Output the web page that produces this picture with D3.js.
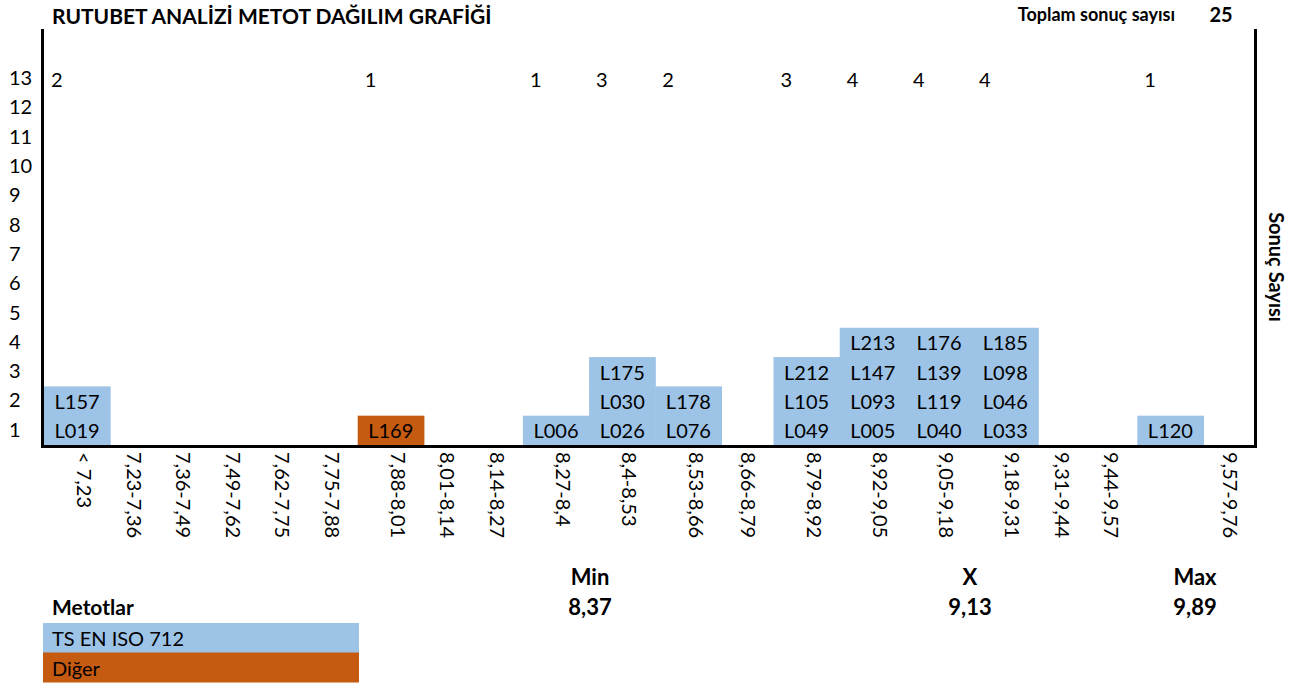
<!DOCTYPE html>
<html>
<head>
	<meta charset="utf-8">
	<title> rutubet dagilim </title>
	<script src="https://d3js.org/d3.v7.min.js"></script>
	<style>
		body { margin: 0; background: #fff; }
		text { font-family: Lato, "Noto Sans", sans-serif; fill: #000; }
	</style>
</head>
<body>
	<svg width="1309" height="686"></svg>
	<script type="text/javascript">
		// bins (x axis), one empty label where the sheet had none
		let categories = ["< 7,23","7,23-7,36","7,36-7,49","7,49-7,62","7,62-7,75","7,75-7,88",
			"7,88-8,01","8,01-8,14","8,14-8,27","8,27-8,4","8,4-8,53","8,53-8,66","8,66-8,79",
			"8,79-8,92","8,92-9,05","9,05-9,18","9,18-9,31","9,31-9,44","9,44-9,57","","9,57-9,76"];
		// samples stacked in each bin, bottom first
		let samples = [["L019","L157"],[],[],[],[],[],["L169"],[],[],["L006"],
			["L026","L030","L175"],["L076","L178"],[],["L049","L105","L212"],
			["L005","L093","L147","L213"],["L040","L119","L139","L176"],
			["L033","L046","L098","L185"],[],[],["L120"],[]];
		let otherSamples = ["L169"];
		let methods = ["TS EN ISO 712","Diğer"];
		let rows = d3.range(13, 0, -1);
		let statNames = ["Min","X","Max"];
		let statValues = ["8,37","9,13","9,89"];

		// layout
		let colors = {"TS EN ISO 712": "#9dc3e6", "Diğer": "#c55a11"};
		let colW = [66.2,49.5,49.5,49.5,49.5,49.5,66.2,49.5,49.5,66.2,66.2,66.2,52,66.2,66.2,66.2,66.2,49.5,49.5,66.2,52.5];
		let left = 44, lefts = [];
		colW.forEach(function(w) { lefts.push(left); left += w; });
		let right = left;

		let svg = d3.select("svg");
		let x = d3.scaleOrdinal().domain(d3.range(categories.length)).range(lefts);
		let y = d3.scaleBand().domain(rows).range([64, 445]).padding(0);

		function method(id) { return otherSamples.indexOf(id) >= 0 ? methods[1] : methods[0]; }

		// cells
		let cells = [];
		samples.forEach(function(list, i) {
			list.forEach(function(id, k) { cells.push({col: i, row: k + 1, id: id}); });
		});
		let g = svg.append("g");
		g.selectAll("rect.cell").data(cells).enter().append("rect")
			.attr("x", d => x(d.col)).attr("width", d => colW[d.col] + 0.5)
			.attr("y", d => y(d.row)).attr("height", y.bandwidth() + 0.5)
			.attr("fill", d => colors[method(d.id)]);
		g.selectAll("text.cell").data(cells).enter().append("text")
			.attr("x", d => x(d.col) + colW[d.col] / 2).attr("y", d => y(d.row) + y.bandwidth() / 2)
			.attr("text-anchor", "middle").attr("dominant-baseline", "central")
			.style("font-size", "20px").text(d => d.id);

		// counts on top row
		let counts = samples.map((s, i) => ({col: i, n: s.length})).filter(d => d.n > 0);
		g.selectAll("text.count").data(counts).enter().append("text")
			.attr("x", d => x(d.col) + 7).attr("y", y(13) + y.bandwidth() / 2)
			.attr("dominant-baseline", "central").style("font-size", "20px").text(d => d.n);

		// y axis labels
		let yAxis = svg.append("g").attr("transform", "translate(9,0)")
			.call(d3.axisLeft(y).tickSize(0).tickPadding(0));
		yAxis.select(".domain").remove();
		yAxis.selectAll("text").attr("text-anchor", "start").attr("x", 0)
			.style("font-size", "20px").style("font-family", "Lato, sans-serif").attr("fill", "#000");

		// x axis labels, rotated
		svg.append("g").selectAll("text").data(categories).enter().append("text")
			.attr("transform", (d, i) => "translate(" + (x(i) + colW[i] - 25) + ",452) rotate(90)")
			.attr("dominant-baseline", "central").style("font-size", "20px").text(d => d);

		// frame
		let frame = svg.append("g").attr("stroke", "#000").attr("stroke-width", 3);
		frame.append("line").attr("x1", 42.5).attr("x2", 42.5).attr("y1", 29).attr("y2", 447);
		frame.append("line").attr("x1", right - 0.5).attr("x2", right - 0.5).attr("y1", 29).attr("y2", 447);
		frame.append("line").attr("x1", 41).attr("x2", right + 1).attr("y1", y.range()[1] + 1.5).attr("y2", y.range()[1] + 1.5);

		// titles
		svg.append("text").attr("x", 52).attr("y", 24).style("font-size", "21px").style("font-weight", "bold")
			.text("RUTUBET ANALİZİ METOT DAĞILIM GRAFİĞİ");
		svg.append("text").attr("x", 1175).attr("y", 21).attr("text-anchor", "end")
			.style("font-size", "18px").style("font-weight", "bold").text("Toplam sonuç sayısı");
		svg.append("text").attr("x", 1221).attr("y", 22).attr("text-anchor", "middle")
			.style("font-size", "20px").style("font-weight", "bold").text(cells.length);
		svg.append("text").attr("transform", "translate(1277,267) rotate(90)")
			.attr("text-anchor", "middle").attr("dominant-baseline", "central")
			.style("font-size", "20px").style("font-weight", "bold").text("Sonuç Sayısı");

		// stats
		let statX = [590, 970, 1195];
		statNames.forEach(function(s, i) {
			svg.append("text").attr("x", statX[i]).attr("y", 585).attr("text-anchor", "middle")
				.style("font-size", "22px").style("font-weight", "bold").text(s);
			svg.append("text").attr("x", statX[i]).attr("y", 615).attr("text-anchor", "middle")
				.style("font-size", "22px").style("font-weight", "bold").text(statValues[i]);
		});

		// legend
		svg.append("text").attr("x", 52).attr("y", 615).style("font-size", "21px")
			.style("font-weight", "bold").text("Metotlar");
		let leg = svg.append("g").selectAll("g").data(methods).enter().append("g")
			.attr("transform", (d, i) => "translate(43," + (623 + i * 29.5) + ")");
		leg.append("rect").attr("width", 316).attr("height", 30).attr("fill", d => colors[d]);
		leg.append("text").attr("x", 9).attr("y", 15).attr("dominant-baseline", "central")
			.style("font-size", "20px").text(d => d);
	</script>
</body>
</html>
